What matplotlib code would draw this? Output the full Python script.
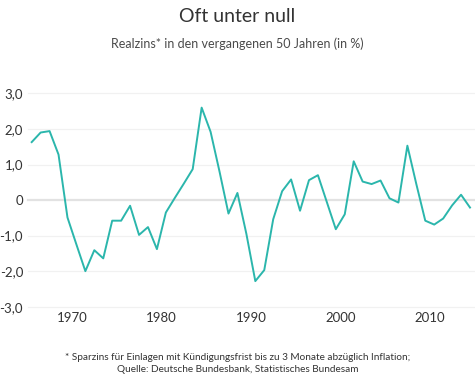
import matplotlib
matplotlib.use("Agg")
import matplotlib.pyplot as plt

# data: real interest rate (in %), yearly
years = list(range(1966, 2016))
realzins = [1.63, 1.90, 1.94, 1.28, -0.49, -1.25, -2.00, -1.41, -1.64, -0.58,
            -0.58, -0.16, -0.98, -0.76, -1.38, -0.35, 0.06, 0.46, 0.87, 2.60,
            1.92, 0.80, -0.38, 0.20, -0.95, -2.28, -1.97, -0.54, 0.25, 0.58,
            -0.30, 0.56, 0.70, -0.06, -0.82, -0.40, 1.09, 0.52, 0.45, 0.55,
            0.05, -0.07, 1.53, 0.45, -0.58, -0.69, -0.52, -0.15, 0.15, -0.21]
xtick_years = [1970, 1980, 1990, 2000, 2010]
yticks = [3, 2, 1, 0, -1, -2, -3]
ytick_labels = ["3,0", "2,0", "1,0", "0", "-1,0", "-2,0", "-3,0"]

title = "Oft unter null"
subtitle = "Realzins* in den vergangenen 50 Jahren (in %)"
footnote = ("* Sparzins für Einlagen mit Kündigungsfrist bis zu 3 Monate abzüglich Inflation;\n"
            "Quelle: Deutsche Bundesbank, Statistisches Bundesam")

plt.rcParams['font.family'] = ['Lato', 'DejaVu Sans']

fig = plt.figure(figsize=(4.75, 3.86), dpi=100)
ax = fig.add_axes([0.059, 0.2054, 0.941, 0.5526])

# grid lines
for t in yticks:
    if t == 0:
        ax.axhline(t, color="#e2e2e2", lw=1.6, zorder=1, clip_on=False)
    else:
        ax.axhline(t, color="#f1f1f1", lw=0.9, zorder=1, clip_on=False)

ax.plot(years, realzins, color="#2bb6ac", lw=1.4, zorder=3)

ax.set_xlim(1965.59, 2015.56)
ax.set_ylim(-3, 3)
# year labels sit in the middle of the year
ax.set_xticks([y + 0.5 for y in xtick_years])
ax.set_xticklabels([str(y) for y in xtick_years])
ax.set_yticks(yticks)
ax.set_yticklabels(ytick_labels)
ax.tick_params(length=0, labelsize=9.5, colors="#333333", pad=3.5)
ax.tick_params(axis="y", pad=3.6)
for s in ax.spines.values():
    s.set_visible(False)

fig.text(0.5, 1 - 17 / 386, title, ha="center", va="center", fontsize=14,
         color="#333333")
fig.text(0.5, 1 - 43.5 / 386, subtitle, ha="center", va="center", fontsize=9,
         color="#4a4a4a")
fig.text(0.5, 1 - 363.5 / 386, footnote, ha="center", va="center", fontsize=7.2,
         color="#333333", linespacing=1.4)

fig.savefig("out.png", dpi=100)
